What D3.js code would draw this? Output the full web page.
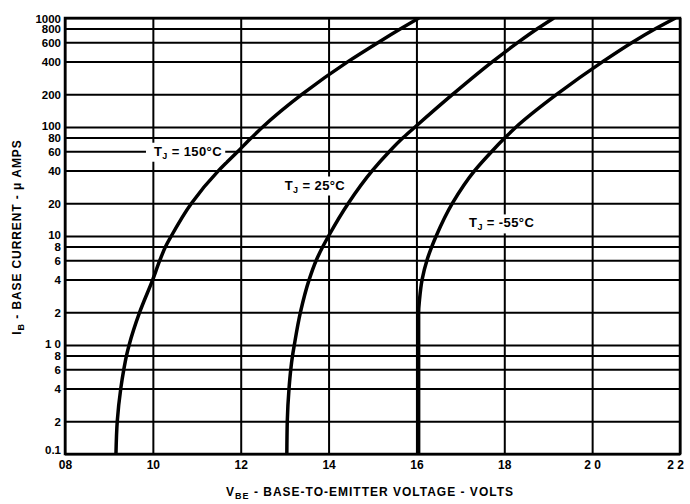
<!DOCTYPE html>
<html>
<head>
<meta charset="utf-8">
<script src="https://cdn.jsdelivr.net/npm/d3@7"></script>
<style>
  html, body { margin: 0; padding: 0; background: #fff; }
  svg { display: block; }
  text { font-family: "Liberation Sans", Arial, Helvetica, sans-serif; font-weight: bold; fill: #000; }
</style>
</head>
<body>
<svg id="chart" width="690" height="504"></svg>
<script>
// ---- data ----
const xTicks = [8, 10, 12, 14, 16, 18, 20, 22];
const xTickLabels = ["08", "10", "12", "14", "16", "18", "2 0", "2 2"];
const yTicks = [0.1, 0.2, 0.4, 0.6, 0.8, 1, 2, 4, 6, 8, 10, 20, 40, 60, 80, 100, 200, 400, 600, 800, 1000];
const yTickLabels = ["0.1", "2", "4", "6", "8", "1 0", "2", "4", "6", "8", "10", "20", "40", "60", "80", "100", "200", "400", "600", "800", "1000"];

// V_BE (volts) and I_B (microamps)
const vbe150 = [9.16, 9.19, 9.27, 9.34, 9.40, 9.46, 9.70, 10.0, 10.16, 10.29, 10.42, 10.88, 11.50, 11.94, 12.25, 12.50, 13.40, 14.45, 15.14, 15.65, 16.06];
const ib150  = [0.1, 0.2, 0.4, 0.6, 0.8, 1, 2, 4, 6, 8, 10, 20, 40, 60, 80, 100, 200, 400, 600, 800, 1000];
const vbe25  = [13.05, 13.06, 13.1, 13.14, 13.18, 13.22, 13.36, 13.56, 13.72, 13.87, 14.0, 14.45, 15.0, 15.39, 15.70, 15.97, 16.83, 17.74, 18.32, 18.76, 19.13];
const ib25   = [0.1, 0.2, 0.4, 0.6, 0.8, 1, 2, 4, 6, 8, 10, 20, 40, 60, 80, 100, 200, 400, 600, 800, 1000];
const vbeM55 = [16.05, 16.05, 16.05, 16.07, 16.13, 16.24, 16.35, 16.45, 16.82, 17.33, 17.72, 18.02, 18.27, 19.2, 20.25, 20.92, 21.45, 21.9];
const ibM55  = [0.1, 1, 2, 2.6, 4, 6, 8, 10, 20, 40, 60, 80, 100, 200, 400, 600, 800, 1000];

const curveNames = ["150°C", "25°C", "-55°C"];
// label anchor positions in data units (V, µA)
const labelV = [10.8, 13.69, 17.94];
const labelI = [60, 29.4, 13.2];

// ---- layout ----
const svg = d3.select("#chart");
const mLeft = 65, mRight = 680, mTop = 18, mBottom = 454;

const x = d3.scaleLinear().domain([8, 22]).range([mLeft, mRight]);
const y = d3.scaleLog().domain([0.1, 1000]).range([mBottom, mTop]);

svg.append("rect").attr("width", 690).attr("height", 504).attr("fill", "#fff");

// horizontal grid + y labels
const yAxis = d3.axisLeft(y)
  .tickValues(yTicks)
  .tickFormat((d, i) => yTickLabels[i])
  .tickSizeInner(-(mRight - mLeft))
  .tickSizeOuter(0)
  .tickPadding(4);
const gy = svg.append("g").attr("transform", `translate(${mLeft},0)`).call(yAxis);
gy.select(".domain").remove();
gy.selectAll("line").attr("stroke", "#000").attr("stroke-width", 2);
gy.selectAll("text").style("font-size", "11.5px").attr("font-weight", "bold").attr("fill", "#000")
  .attr("dy", (d) => d === 0.1 ? "-0.05em" : (d === 1 || d === 10 || d === 100) ? "0.2em" : "0.36em");

// vertical grid + x labels
const xAxis = d3.axisBottom(x)
  .tickValues(xTicks)
  .tickFormat((d, i) => xTickLabels[i])
  .tickSizeInner(-(mBottom - mTop))
  .tickSizeOuter(0)
  .tickPadding(6);
const gx = svg.append("g").attr("transform", `translate(0,${mBottom})`).call(xAxis);
gx.select(".domain").remove();
gx.selectAll("line").attr("stroke", "#000").attr("stroke-width", 2);
gx.selectAll("text").style("font-size", "12px").attr("font-weight", "bold").attr("fill", "#000")
  .attr("dx", (d) => d === 22 ? "-0.4em" : 0);

// frame
svg.append("rect")
  .attr("x", mLeft).attr("y", mTop)
  .attr("width", mRight - mLeft).attr("height", mBottom - mTop)
  .attr("fill", "none").attr("stroke", "#000").attr("stroke-width", 2.5);

// curves
svg.append("clipPath").attr("id", "plotclip")
  .append("rect").attr("x", mLeft).attr("y", mTop - 1).attr("width", mRight - mLeft).attr("height", mBottom - mTop + 2);

const line = d3.line()
  .x(d => x(d[0]))
  .y(d => y(d[1]))
  .curve(d3.curveMonotoneY);

const series = [
  d3.zip(vbe150, ib150),
  d3.zip(vbe25, ib25),
  d3.zip(vbeM55, ibM55)
].map(s => s.slice().sort((a, b) => b[1] - a[1]));

svg.append("g").attr("clip-path", "url(#plotclip)")
  .selectAll("path").data(series).join("path")
  .attr("d", line)
  .attr("fill", "none")
  .attr("stroke", "#000")
  .attr("stroke-width", 3.5)
  .attr("stroke-linecap", "butt");

// curve labels (with white background)
curveNames.forEach((name, k) => {
  const g = svg.append("g");
  const t = g.append("text")
    .attr("x", x(labelV[k]))
    .attr("y", y(labelI[k]))
    .attr("dy", "0.35em")
    .attr("text-anchor", "middle")
    .style("font-size", "13px")
    .style("letter-spacing", "0.4px");
  t.append("tspan").text("T");
  t.append("tspan").attr("dy", "3").style("font-size", "9px").text("J");
  t.append("tspan").attr("dy", "-3").text(" = " + name);
  const bb = t.node().getBBox();
  g.insert("rect", "text")
    .attr("x", bb.x - (k === 0 ? 8 : 3)).attr("y", bb.y - 1)
    .attr("width", bb.width + (k === 0 ? 11 : 6)).attr("height", bb.height + 2)
    .attr("fill", "#fff");
});

// axis titles
const yt = svg.append("text")
  .attr("transform", `translate(21,${(mTop + mBottom) / 2 + 1}) rotate(-90)`)
  .attr("text-anchor", "middle")
  .style("font-size", "12px")
  .style("letter-spacing", "0.9px");
yt.append("tspan").text("I");
yt.append("tspan").attr("dy", "3").style("font-size", "9px").text("B");
yt.append("tspan").attr("dy", "-3").text(" - BASE CURRENT - \u03bc AMPS");

const xt = svg.append("text")
  .attr("x", 370).attr("y", 496)
  .attr("text-anchor", "middle")
  .style("font-size", "12px")
  .style("letter-spacing", "1px");
xt.append("tspan").text("V");
xt.append("tspan").attr("dy", "3").style("font-size", "9px").text("BE");
xt.append("tspan").attr("dy", "-3").text(" - BASE-TO-EMITTER VOLTAGE - VOLTS");
</script>
</body>
</html>
